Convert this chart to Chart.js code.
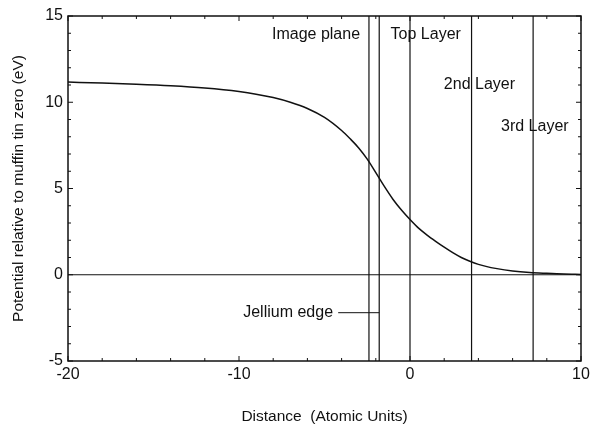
<!DOCTYPE html>
<html>
<head>
<meta charset="utf-8">
<script src="https://cdn.jsdelivr.net/npm/chart.js@4"></script>
<style>
  html, body { margin: 0; padding: 0; background: #fff; }
  #wrap { width: 590px; height: 426px; }
</style>
</head>
<body>
<div id="wrap"><canvas id="potentialChart" width="590" height="426"></canvas></div>
<script>
// potential curve, read in atomic units / eV
const distance = [-20, -18, -16, -14, -12, -10, -9, -8, -7, -6, -5, -4, -3.5, -3, -2.5, -2, -1.5, -1, -0.5, 0, 0.5, 1, 1.5, 2, 2.5, 3, 3.5, 4, 4.5, 5, 6, 7, 8, 9, 10];
const potential = [11.17, 11.11, 11.04, 10.95, 10.82, 10.62, 10.47, 10.27, 10.0, 9.64, 9.12, 8.36, 7.88, 7.35, 6.7, 5.92, 5.12, 4.38, 3.75, 3.2, 2.7, 2.3, 1.94, 1.6, 1.28, 1.0, 0.78, 0.6, 0.47, 0.37, 0.22, 0.13, 0.08, 0.04, 0.02];

// planes drawn as vertical lines
const planeNames = ["Image plane", "Jellium edge", "Top Layer", "2nd Layer", "3rd Layer"];
const planeX = [-2.4, -1.8, 0, 3.6, 7.2];

const xMin = -20, xMax = 10;
const yMin = -5, yMax = 15;
const xTickLabels = [-20, -10, 0, 10];
const yTickLabels = [15, 10, 5, 0, -5];

const black = "#111";
const FONT = "'Liberation Sans', Arial, Helvetica, sans-serif";

const datasets = [];
datasets.push({
  label: "potential",
  data: distance.map((d, i) => ({ x: d, y: potential[i] })),
  borderColor: black,
  borderWidth: 1.5,
  pointRadius: 0,
  cubicInterpolationMode: "monotone",
});
// zero line
datasets.push({
  label: "zero",
  data: [{ x: xMin, y: 0 }, { x: xMax, y: 0 }],
  borderColor: black,
  borderWidth: 1.2,
  pointRadius: 0,
});
planeX.forEach((px, i) => {
  datasets.push({
    label: planeNames[i],
    data: [{ x: px, y: yMin }, { x: px, y: yMax }],
    borderColor: black,
    borderWidth: 1.2,
    pointRadius: 0,
  });
});
// pointer from the jellium edge label to its line
datasets.push({
  label: "jellium pointer",
  data: [{ x: -4.2, y: -2.2 }, { x: planeX[1], y: -2.2 }],
  borderColor: black,
  borderWidth: 1,
  pointRadius: 0,
});

// text next to the plane lines
const notes = [
  { text: planeNames[0], x: -2.92, y: 13.95, align: "right" },
  { text: planeNames[2], x: 0.92, y: 13.95, align: "center" },
  { text: planeNames[3], x: 4.06, y: 11.0, align: "center" },
  { text: planeNames[4], x: 7.3, y: 8.58, align: "center" },
  { text: planeNames[1], x: -4.5, y: -2.2, align: "right" },
];

// frame plus inward ticks on all four sides, and the note texts
const framePlugin = {
  id: "frame",
  afterDatasetsDraw(chart) {
    const { ctx, chartArea: a, scales } = chart;
    const xs = scales.x, ys = scales.y;
    ctx.save();
    ctx.strokeStyle = black;
    ctx.lineWidth = 1.5;
    ctx.strokeRect(a.left, a.top, a.right - a.left, a.bottom - a.top);
    ctx.lineWidth = 1;
    ctx.beginPath();
    xs.ticks.forEach((t) => {
      const px = xs.getPixelForValue(t.value);
      const len = t.value % 10 === 0 ? 5 : 3;
      ctx.moveTo(px, a.bottom); ctx.lineTo(px, a.bottom - len);
      ctx.moveTo(px, a.top); ctx.lineTo(px, a.top + len);
    });
    ys.ticks.forEach((t) => {
      const py = ys.getPixelForValue(t.value);
      const len = t.value % 5 === 0 ? 5 : 3;
      ctx.moveTo(a.left, py); ctx.lineTo(a.left + len, py);
      ctx.moveTo(a.right, py); ctx.lineTo(a.right - len, py);
    });
    ctx.stroke();

    ctx.fillStyle = black;
    ctx.font = "16px " + FONT;
    ctx.textBaseline = "middle";
    notes.forEach((n) => {
      ctx.textAlign = n.align;
      ctx.fillText(n.text, xs.getPixelForValue(n.x), ys.getPixelForValue(n.y));
    });
    ctx.restore();
  },
};

Chart.defaults.font.family = FONT;
Chart.defaults.color = black;

new Chart(document.getElementById("potentialChart").getContext("2d"), {
  type: "line",
  data: { datasets },
  options: {
    responsive: false,
    animation: false,
    events: [],
    layout: { padding: { top: 16, right: 9, left: 0, bottom: 0 } },
    plugins: { legend: { display: false }, tooltip: { enabled: false } },
    scales: {
      x: {
        type: "linear",
        min: xMin,
        max: xMax,
        grid: { display: false, drawTicks: false },
        border: { display: false },
        ticks: {
          stepSize: 2,
          autoSkip: false,
          maxRotation: 0,
          padding: 4,
          font: { size: 16 },
          color: black,
          callback: (v) => (xTickLabels.includes(v) ? String(v) : ""),
        },
        title: {
          display: true,
          text: "Distance  (Atomic Units)",
          font: { size: 15.5 },
          color: black,
          padding: { top: 0, bottom: 0 },
        },
        afterFit: (s) => {
          s.height = 65;
          s.paddingLeft = 0;
          s.paddingRight = 0;
        },
      },
      y: {
        type: "linear",
        min: yMin,
        max: yMax,
        grid: { display: false, drawTicks: false },
        border: { display: false },
        ticks: {
          stepSize: 1,
          autoSkip: false,
          padding: 5,
          font: { size: 16 },
          color: black,
          callback: (v) => (yTickLabels.includes(v) ? String(v) : ""),
        },
        title: {
          display: true,
          text: "Potential relative to muffin tin zero (eV)",
          font: { size: 15.5 },
          color: black,
          padding: { top: 9, bottom: 0 },
        },
        afterFit: (s) => {
          s.width = 68;
          s.paddingTop = 0;
          s.paddingBottom = 0;
        },
      },
    },
  },
  plugins: [framePlugin],
});
</script>
</body>
</html>
